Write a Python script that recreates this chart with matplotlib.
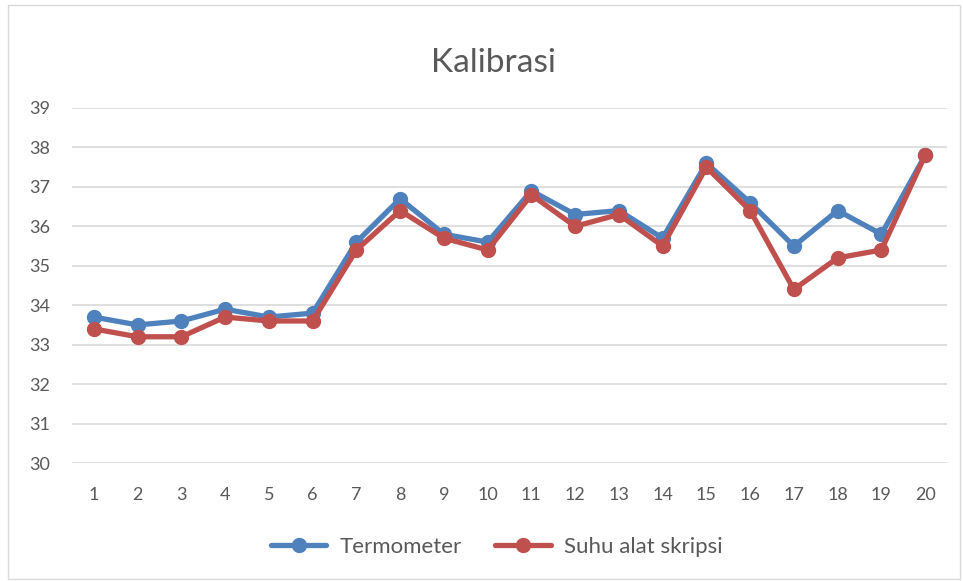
import matplotlib
matplotlib.use("Agg")
import matplotlib.pyplot as plt
from matplotlib.patches import Rectangle

categories = [str(i) for i in range(1, 21)]
termometer = [33.7, 33.5, 33.6, 33.9, 33.7, 33.8, 35.6, 36.7, 35.8, 35.6,
              36.9, 36.3, 36.4, 35.7, 37.6, 36.6, 35.5, 36.4, 35.8, 37.8]
suhu_alat = [33.4, 33.2, 33.2, 33.7, 33.6, 33.6, 35.4, 36.4, 35.7, 35.4,
             36.8, 36.0, 36.3, 35.5, 37.5, 36.4, 34.4, 35.2, 35.4, 37.8]
yticks = list(range(30, 40))
series_names = ["Termometer", "Suhu alat skripsi"]

plt.rcParams['font.family'] = ['Lato', 'DejaVu Sans']
text_color = '#595959'

fig = plt.figure(figsize=(9.63, 5.81), dpi=100)
ax = fig.add_axes([72/963, 1-463/581, (947-72)/963, (463-108)/581])

x = list(range(1, len(categories) + 1))
ax.plot(x, termometer, color='#4F81BD', lw=3.8, marker='o', ms=10,
        solid_capstyle='round', solid_joinstyle='round', label=series_names[0], zorder=3)
ax.plot(x, suhu_alat, color='#C0504D', lw=3.8, marker='o', ms=10,
        solid_capstyle='round', solid_joinstyle='round', label=series_names[1], zorder=4)

ax.set_xlim(0.5, len(categories) + 0.5)
ax.set_ylim(30, 39)
ax.set_yticks(yticks)
ax.set_xticks(x)
ax.set_xticklabels(categories)
ax.grid(axis='y', color='#D9D9D9', lw=1.2)
ax.set_axisbelow(True)
for s in ax.spines.values():
    s.set_visible(False)
ax.tick_params(length=0, labelsize=13, colors=text_color)
ax.tick_params(axis='x', pad=17)
ax.tick_params(axis='y', pad=16)

fig.text(0.512, 1-72/581, "Kalibrasi", ha='center', va='baseline', fontsize=24, color=text_color)

leg = fig.legend(loc='center', bbox_to_anchor=(0.516, 1-547/581), ncol=2, frameon=False,
                 fontsize=16, handlelength=2.5, columnspacing=1.5, handletextpad=0.6)
for t in leg.get_texts():
    t.set_color(text_color)

fig.patches.append(Rectangle((8/963, 2/581), 952/963, 574/581, transform=fig.transFigure,
                             fill=False, edgecolor='#D9D9D9', lw=1))

fig.savefig("out.png", dpi=100)
